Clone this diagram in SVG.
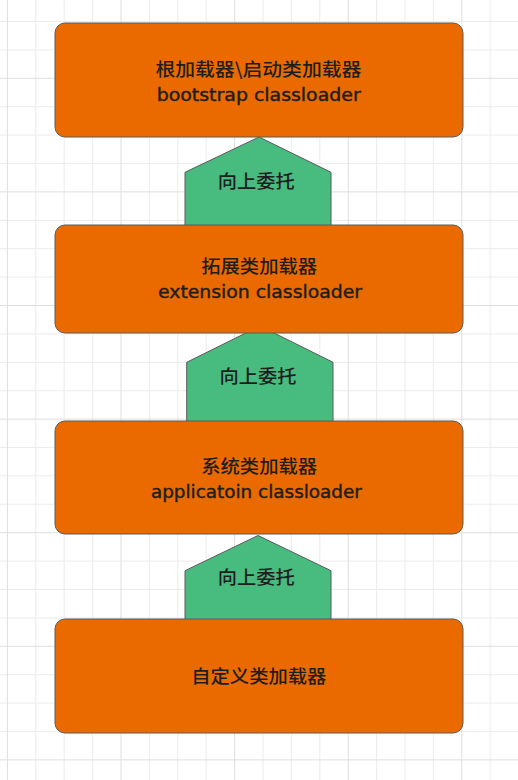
<svg xmlns="http://www.w3.org/2000/svg" width="518" height="780" viewBox="0 0 518 780">
<style>
.gmin{stroke:#ececec;stroke-width:1;fill:none}
.gmaj{stroke:#dedede;stroke-width:1;fill:none}
.box{fill:#EB6A00;stroke:#5a5a5a;stroke-width:1}
.arr{fill:#47BC7E;stroke:#5a5a5a;stroke-width:1}
.cjk{font-family:"Noto Sans CJK SC","DejaVu Sans",sans-serif;font-size:18px;font-weight:500;fill:#1e1e1e;text-anchor:middle}
.lat{font-family:"DejaVu Sans","Noto Sans CJK SC",sans-serif;font-size:18.5px;fill:#1e1e1e;stroke:#1e1e1e;stroke-width:0.45;text-anchor:middle}
</style>
<rect width="518" height="780" fill="#ffffff"/>
<g id="grid">
<path class="gmin" d="M35.8 0V780M64.2 0V780M92.6 0V780M149.4 0V780M177.8 0V780M206.2 0V780M263 0V780M291.4 0V780M319.8 0V780M376.6 0V780M405 0V780M433.4 0V780M490.2 0V780M0 21.5H518M0 49.9H518M0 106.7H518M0 135.1H518M0 163.5H518M0 220.3H518M0 248.7H518M0 277.1H518M0 333.9H518M0 362.3H518M0 390.7H518M0 447.5H518M0 475.9H518M0 504.3H518M0 561.1H518M0 589.5H518M0 617.9H518M0 674.7H518M0 703.1H518M0 731.5H518"/>
<path class="gmaj" d="M7.4 0V780M121 0V780M234.6 0V780M348.2 0V780M461.8 0V780M0 78.3H518M0 191.9H518M0 305.5H518M0 419.1H518M0 532.7H518M0 646.3H518M0 759.9H518"/>
</g>
<g id="connectors">
<g id="up1">
<polygon class="arr" points="185,226 185,172.3 259,137 331,172.3 331,226"/>
<text class="cjk" x="256.2" y="188" textLength="77" lengthAdjust="spacingAndGlyphs">向上委托</text>
</g>
<g id="up2">
<polygon class="arr" points="186.7,422 186.7,362.3 260,326 333,362.3 333,422"/>
<text class="cjk" x="258" y="383" textLength="77" lengthAdjust="spacingAndGlyphs">向上委托</text>
</g>
<g id="up3">
<polygon class="arr" points="185,620 185,570.7 258,535.5 331,570.7 331,620"/>
<text class="cjk" x="256.2" y="584" textLength="77" lengthAdjust="spacingAndGlyphs">向上委托</text>
</g>
</g>
<g id="bootstrap">
<rect class="box" x="55" y="23" width="408" height="114" rx="10"/>
<text class="cjk" x="258.4" y="75.5" textLength="206" lengthAdjust="spacingAndGlyphs">根加载器\启动类加载器</text>
<text class="lat" x="258.7" y="101" textLength="204" lengthAdjust="spacingAndGlyphs">bootstrap classloader</text>
</g>
<g id="extension">
<rect class="box" x="55" y="225" width="408" height="108" rx="10"/>
<text class="cjk" x="259.2" y="273" textLength="116" lengthAdjust="spacingAndGlyphs">拓展类加载器</text>
<text class="lat" x="260" y="298.3" textLength="204" lengthAdjust="spacingAndGlyphs">extension classloader</text>
</g>
<g id="application">
<rect class="box" x="55" y="421" width="408" height="113" rx="10"/>
<text class="cjk" x="259.2" y="473" textLength="116" lengthAdjust="spacingAndGlyphs">系统类加载器</text>
<text class="lat" x="256.4" y="498.3" textLength="211" lengthAdjust="spacingAndGlyphs">applicatoin classloader</text>
</g>
<g id="custom">
<rect class="box" x="55" y="619" width="408" height="114" rx="10"/>
<text class="cjk" x="258.8" y="683" textLength="135" lengthAdjust="spacingAndGlyphs">自定义类加载器</text>
</g>
</svg>
